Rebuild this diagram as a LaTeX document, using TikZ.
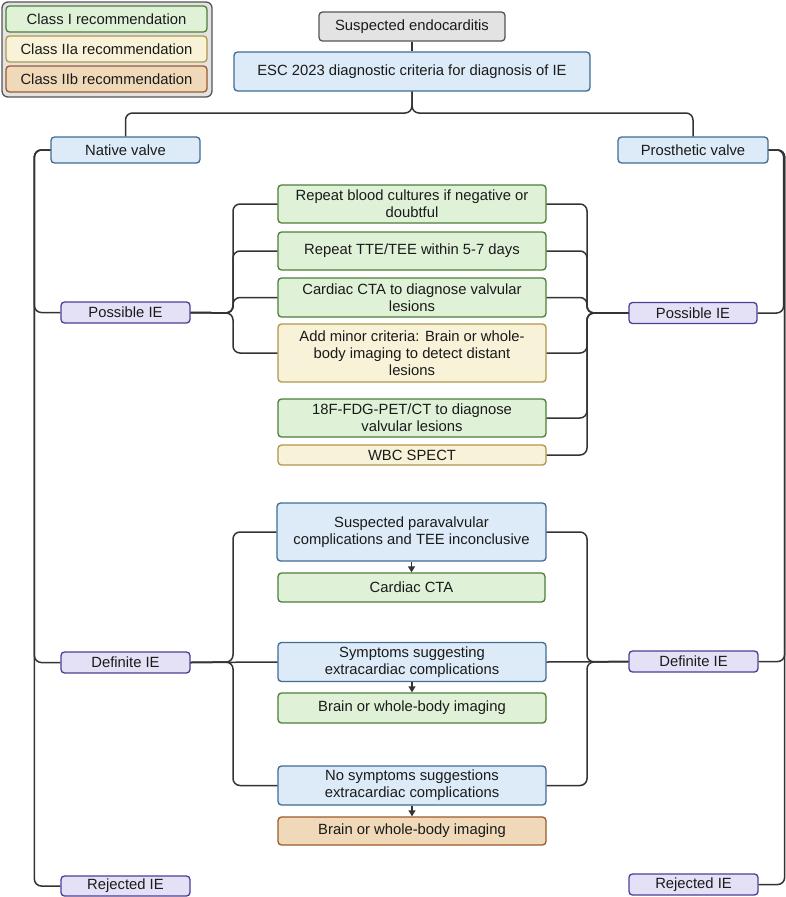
\documentclass[tikz,border=0pt]{standalone}
\usepackage{fontspec}
\setmainfont{Liberation Sans}
\usetikzlibrary{arrows.meta,calc}
\definecolor{gfill}{HTML}{DFF2D8}
\definecolor{gdraw}{HTML}{4C7F35}
\definecolor{yfill}{HTML}{F7F2D8}
\definecolor{ydraw}{HTML}{B0974A}
\definecolor{ofill}{HTML}{EFD9B8}
\definecolor{odraw}{HTML}{9B5B2B}
\definecolor{bfill}{HTML}{DDEBF8}
\definecolor{bdraw}{HTML}{3F6C96}
\definecolor{pfill}{HTML}{E4E0F6}
\definecolor{pdraw}{HTML}{4F3D97}
\definecolor{kfill}{HTML}{E3E3E3}
\definecolor{kdraw}{HTML}{555555}
\definecolor{lineC}{HTML}{333333}
\definecolor{txt}{HTML}{1A1A1A}
\begin{document}
\begin{tikzpicture}[x=1pt,y=-1pt,
  box/.style={draw, rounded corners=3.5pt, line width=1.3pt, inner sep=0pt, align=center,
    text=txt, font=\fontsize{14.8}{17}\selectfont},
  gbox/.style={box, fill=gfill, draw=gdraw},
  ybox/.style={box, fill=yfill, draw=ydraw},
  obox/.style={box, fill=ofill, draw=odraw},
  bbox/.style={box, fill=bfill, draw=bdraw},
  pbox/.style={box, fill=pfill, draw=pdraw},
  kbox/.style={box, fill=kfill, draw=kdraw},
  conn/.style={draw=lineC, line width=1.5pt, rounded corners=7pt},
  arr/.style={draw=lineC, line width=1.3pt, -{Triangle[length=6pt,width=7pt]}},
  mid/.style={minimum width=268pt}
]
\useasboundingbox (0,0) rectangle (785,897);

% legend
\node[kbox, minimum width=210pt, minimum height=95pt, rounded corners=6pt] (legend) at (107,49.5) {};
\node[gbox, minimum width=201pt, minimum height=26pt] (c1) at (106.5,19) {Class I recommendation};
\node[ybox, minimum width=201pt, minimum height=26pt] (c2) at (106.5,49) {Class IIa recommendation};
\node[obox, minimum width=201pt, minimum height=26pt] (c3) at (106.5,79) {Class IIb recommendation};

% top
\node[kbox, minimum width=186pt, minimum height=29pt] (susp) at (412,26.5) {Suspected endocarditis};
\node[bbox, minimum width=356pt, minimum height=39pt] (esc) at (412,71.5) {ESC 2023 diagnostic criteria for diagnosis of IE};
\node[bbox, minimum width=149pt, minimum height=26pt] (nv) at (125.5,150) {Native valve};
\node[bbox, minimum width=150pt, minimum height=26pt] (pv) at (693,150) {Prosthetic valve};

% side nodes
\node[pbox, minimum width=129pt, minimum height=21pt] (posL) at (125.5,312.5) {Possible IE};
\node[pbox, minimum width=128pt, minimum height=21pt] (posR) at (693,313) {Possible IE};
\node[pbox, minimum width=129pt, minimum height=21pt] (defL) at (125.5,662.5) {Definite IE};
\node[pbox, minimum width=129pt, minimum height=21pt] (defR) at (693.5,661.5) {Definite IE};
\node[pbox, minimum width=129pt, minimum height=20pt] (rejL) at (125.5,886) {Rejected IE};
\node[pbox, minimum width=129pt, minimum height=21pt] (rejR) at (693.5,884.5) {Rejected IE};

% middle possible
\node[gbox, mid, minimum height=38pt] (blood) at (412,204) {Repeat blood cultures if negative or\\doubtful};
\node[gbox, mid, minimum height=38pt] (tte) at (412,251) {Repeat TTE/TEE within 5-7 days};
\node[gbox, mid, minimum height=39pt] (cta) at (412,297.5) {Cardiac CTA to diagnose valvular\\lesions};
\node[ybox, mid, minimum height=58pt] (minor) at (412,353) {Add minor criteria: Brain or whole-\\body imaging to detect distant\\lesions};
\node[gbox, mid, minimum height=38pt] (fdg) at (412,418) {18F-FDG-PET/CT to diagnose\\valvular lesions};
\node[ybox, mid, minimum height=20pt] (wbc) at (412,455) {WBC SPECT};

% middle definite
\node[bbox, minimum width=269pt, minimum height=58pt] (para) at (411.5,532) {Suspected paravalvular\\complications and TEE inconclusive};
\node[gbox, minimum width=267pt, minimum height=29pt] (ccta) at (411.5,587.5) {Cardiac CTA};
\node[bbox, mid, minimum height=39pt] (symp) at (412,662) {Symptoms suggesting\\extracardiac complications};
\node[gbox, mid, minimum height=30pt] (brain1) at (412,708) {Brain or whole-body imaging};
\node[bbox, mid, minimum height=39pt] (nosymp) at (412,785.5) {No symptoms suggestions\\extracardiac complications};
\node[obox, mid, minimum height=28pt] (brain2) at (412,831) {Brain or whole-body imaging};

% top connectors
\draw[conn] (susp) -- (esc);
\coordinate (topj) at (412,113);
\draw[conn] (esc.south) -- (topj) -| (nv.north);
\draw[conn] (esc.south) -- (topj) -| (pv.north);

% outer rails
\foreach \n in {posL,defL,rejL}
  \draw[conn] (nv.west) -| ($(\n.west)+(-26,0)$) -- (\n.west);
\foreach \n in {posR,defR,rejR}
  \draw[conn] (pv.east) -| ($(\n.east)+(26,0)$) -- (\n.east);

% possible branches
\coordinate (jPL) at (233,313);
\coordinate (jPR) at (587,313);
\foreach \b in {blood,tte,cta,minor}
  \draw[conn] (\b.west) -| (jPL) -- (posL.east);
\foreach \b in {blood,tte,cta,minor,fdg,wbc}
  \draw[conn] (\b.east) -| (jPR) -- (posR.west);

% definite branches
\coordinate (jDL) at (233,662);
\coordinate (jDR) at (587,662);
\foreach \b in {para,nosymp}{
  \draw[conn] (\b.west) -| (jDL) -- (defL.east);
  \draw[conn] (\b.east) -| (jDR) -- (defR.west);
}
\draw[conn] (defL.east) -- (symp.west);
\draw[conn] (symp.east) -- (defR.west);

% arrows
\draw[arr] (para) -- (ccta);
\draw[arr] (symp) -- (brain1);
\draw[arr] (nosymp) -- (brain2);
\end{tikzpicture}
\end{document}
